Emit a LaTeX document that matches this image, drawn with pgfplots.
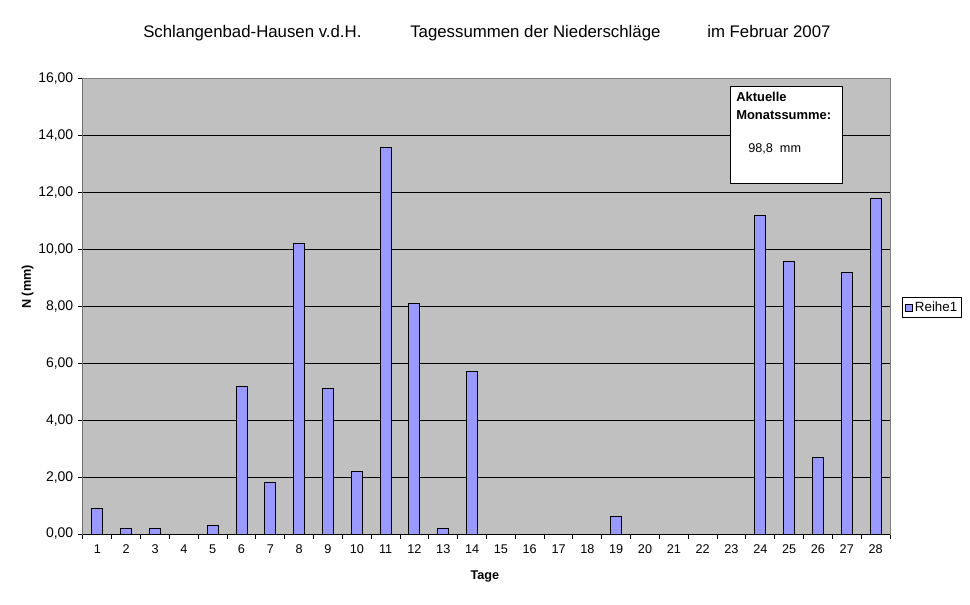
\documentclass[border=0pt]{standalone}
\usepackage{pgfplots}
\pgfplotsset{compat=1.18}
\usepackage{fontspec}
\setmainfont{Liberation Sans}
\definecolor{plotbg}{RGB}{192,192,192}
\definecolor{barblue}{RGB}{153,153,255}
\begin{document}
\begin{tikzpicture}
\useasboundingbox (0,0) rectangle (727.5pt,453pt);
\begin{axis}[
  at={(62.25pt,52.5pt)}, anchor=south west,
  scale only axis, width=605.25pt, height=341.25pt,
  xmin=0.5, xmax=28.5, ymin=0, ymax=16,
  ybar, bar width=8.25pt,
  xtick={1,...,28},
  minor xtick={0.5,1.5,...,28.5},
  major x tick style={draw=none},
  ytick={0,2,...,16},
  xtick pos=lower, ytick pos=left,
  tick align=outside,
  major tick length=3.75pt, minor tick length=3.75pt,
  tick style={black, line width=0.75pt},
  ymajorgrids, grid style={black, line width=0.75pt},
  axis background/.style={fill=plotbg},
  axis line style={draw=gray, line width=0.75pt},
  tick label style={font=\fontsize{9.5}{11}\selectfont},
  /pgf/number format/assume math mode=true,
  yticklabel={\pgfmathprintnumber[fixed, fixed zerofill, precision=2, use comma, assume math mode=true]{\tick}},
  yticklabel style={font=\fontsize{10.5}{12}\selectfont},
  xticklabel style={yshift=-1pt},
  ylabel={\textbf{N (mm)}},
  ylabel style={at={(axis description cs:-0.0688,0.543)}, anchor=center, font=\fontsize{9.5}{11}\selectfont},
  xlabel={\textbf{Tage}},
  xlabel style={at={(axis description cs:0.4981,-0.0923)}, anchor=center, font=\fontsize{9.5}{11}\selectfont},
  legend style={at={(axis description cs:1.0149,0.4978)}, anchor=west, draw=black, line width=0.75pt,
    font=\fontsize{10}{12}\selectfont, inner xsep=1.5pt, inner ysep=1.5pt},
  legend image code/.code={\draw[fill=barblue,draw=black,line width=0.6pt] (0pt,-2.6pt) rectangle (5.25pt,2.6pt);},
]
\addplot[fill=barblue, draw=black, line width=0.75pt] coordinates {
(1,0.9) (2,0.2) (3,0.2) (4,0) (5,0.3) (6,5.2) (7,1.8) (8,10.2) (9,5.1) (10,2.2)
(11,13.6) (12,8.1) (13,0.2) (14,5.7) (15,0) (16,0) (17,0) (18,0) (19,0.6) (20,0)
(21,0) (22,0) (23,0) (24,11.2) (25,9.6) (26,2.7) (27,9.2) (28,11.8)
};
\addlegendentry{Reihe1}
\draw[black, line width=0.75pt] (rel axis cs:0,0) -- (rel axis cs:0,1);
\draw[black, line width=0.75pt] (rel axis cs:0,0) -- (rel axis cs:1,0);
\end{axis}
% title
\node[anchor=base west, inner sep=0, font=\fontsize{12.6}{14}\selectfont] at (107.25pt,424.5pt) {Schlangenbad-Hausen v.d.H.};
\node[anchor=base west, inner sep=0, font=\fontsize{12.6}{14}\selectfont] at (307.5pt,424.5pt) {Tagessummen der Niederschläge};
\node[anchor=base west, inner sep=0, font=\fontsize{12.6}{14}\selectfont] at (530.25pt,424.5pt) {im Februar 2007};
% text box
\draw[black, fill=white, line width=0.75pt] (547.5pt,387.75pt) rectangle (631.5pt,315pt);
\node[anchor=base west, inner sep=0, font=\bfseries\fontsize{9.7}{11}\selectfont] at (552pt,377pt) {Aktuelle};
\node[anchor=base west, inner sep=0, font=\bfseries\fontsize{9.7}{11}\selectfont] at (552pt,363.5pt) {Monatssumme:};
\node[anchor=base west, inner sep=0, font=\fontsize{9.5}{11}\selectfont] at (561pt,338.5pt) {98,8\ \ mm};
\end{tikzpicture}
\end{document}
